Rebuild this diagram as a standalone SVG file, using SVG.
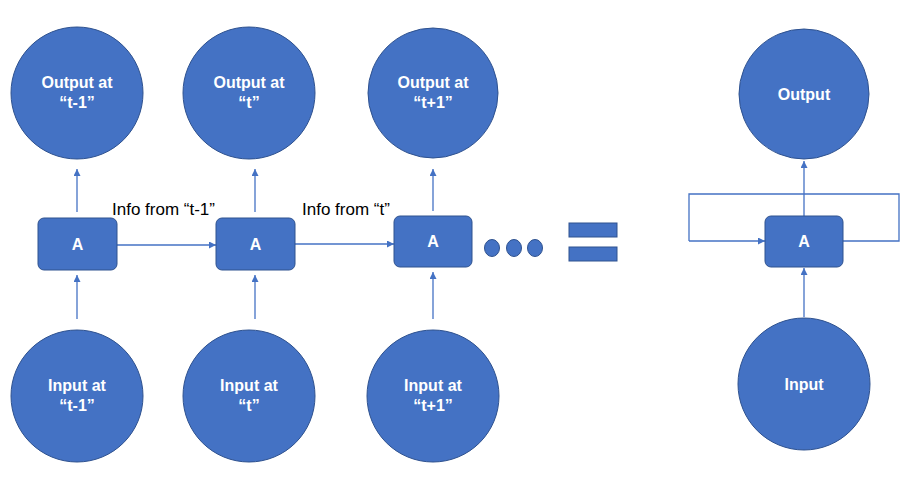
<svg xmlns="http://www.w3.org/2000/svg" width="909" height="486" viewBox="0 0 909 486">
<defs>
<marker id="arr" viewBox="0 0 10 10" refX="10" refY="5" markerWidth="7" markerHeight="7" markerUnits="userSpaceOnUse" orient="auto">
<path d="M0,0 L10,5 L0,10 z" fill="#4472C4"/>
</marker>
</defs>
<style>
.c{fill:#4472C4;stroke:#2F528F;stroke-width:1}
.b{fill:#4472C4;stroke:#2F528F;stroke-width:1}
.t{font-family:"Liberation Sans",Arial,sans-serif;font-size:16px;font-weight:bold;fill:#ffffff;text-anchor:middle}
.l{font-family:"Liberation Sans",Arial,sans-serif;font-size:17px;fill:#000000}
.e{fill:none;stroke:#4472C4;stroke-width:1.3;marker-end:url(#arr)}
.p{fill:none;stroke:#4472C4;stroke-width:1.3}
</style>
<rect width="909" height="486" fill="#ffffff"/>
<g id="connectors">
<line class="e" x1="77" y1="212" x2="77" y2="169"/>
<line class="e" x1="255" y1="212" x2="255" y2="169"/>
<line class="e" x1="433" y1="211" x2="433" y2="169"/>
<line class="e" x1="77" y1="319" x2="77" y2="275"/>
<line class="e" x1="255" y1="319" x2="255" y2="275"/>
<line class="e" x1="433" y1="319" x2="433" y2="272"/>
<line class="e" x1="117" y1="245" x2="216" y2="245"/>
<line class="e" x1="295" y1="244" x2="394" y2="244"/>
<line class="e" x1="804" y1="216" x2="804" y2="161"/>
<line class="e" x1="804" y1="317" x2="804" y2="268"/>
<polyline class="p" points="843,241 899,241 899,194 689,194 689,241"/>
<line class="e" x1="689" y1="241" x2="765" y2="241"/>
</g>
<g id="out1"><circle class="c" cx="77" cy="93" r="66"/><text class="t" x="77" y="88">Output at</text><text class="t" x="77" y="108">“t-1”</text></g>
<g id="out2"><circle class="c" cx="249" cy="93" r="66"/><text class="t" x="249" y="88">Output at</text><text class="t" x="249" y="108">“t”</text></g>
<g id="out3"><circle class="c" cx="433" cy="93" r="65"/><text class="t" x="433" y="88">Output at</text><text class="t" x="433" y="108">“t+1”</text></g>
<g id="outR"><circle class="c" cx="804" cy="94" r="65"/><text class="t" x="804" y="100">Output</text></g>
<g id="a1"><rect class="b" x="38" y="218" width="79" height="52" rx="6"/><text class="t" x="77.5" y="250">A</text></g>
<g id="a2"><rect class="b" x="216" y="218" width="79" height="52" rx="6"/><text class="t" x="255.5" y="250">A</text></g>
<g id="a3"><rect class="b" x="394" y="216" width="78" height="51" rx="6"/><text class="t" x="433" y="247">A</text></g>
<g id="aR"><rect class="b" x="765" y="216" width="78" height="51" rx="6"/><text class="t" x="804" y="247">A</text></g>
<g id="in1"><circle class="c" cx="77" cy="396" r="66"/><text class="t" x="77" y="391">Input at</text><text class="t" x="77" y="411">“t-1”</text></g>
<g id="in2"><circle class="c" cx="249" cy="396" r="66"/><text class="t" x="249" y="391">Input at</text><text class="t" x="249" y="411">“t”</text></g>
<g id="in3"><circle class="c" cx="433" cy="396" r="66"/><text class="t" x="433" y="391">Input at</text><text class="t" x="433" y="411">“t+1”</text></g>
<g id="inR"><circle class="c" cx="804" cy="384" r="66"/><text class="t" x="804" y="390">Input</text></g>
<g id="labels">
<text class="l" x="112" y="215">Info from “t-1”</text>
<text class="l" x="302" y="215">Info from “t”</text>
</g>
<g id="dots">
<ellipse class="c" cx="492" cy="248" rx="7.5" ry="8.5"/>
<ellipse class="c" cx="514" cy="248" rx="7.5" ry="8.5"/>
<ellipse class="c" cx="535" cy="248" rx="7.5" ry="8.5"/>
</g>
<g id="equals">
<rect class="c" x="569" y="223" width="48" height="14"/>
<rect class="c" x="569" y="247" width="48" height="14"/>
</g>
</svg>
